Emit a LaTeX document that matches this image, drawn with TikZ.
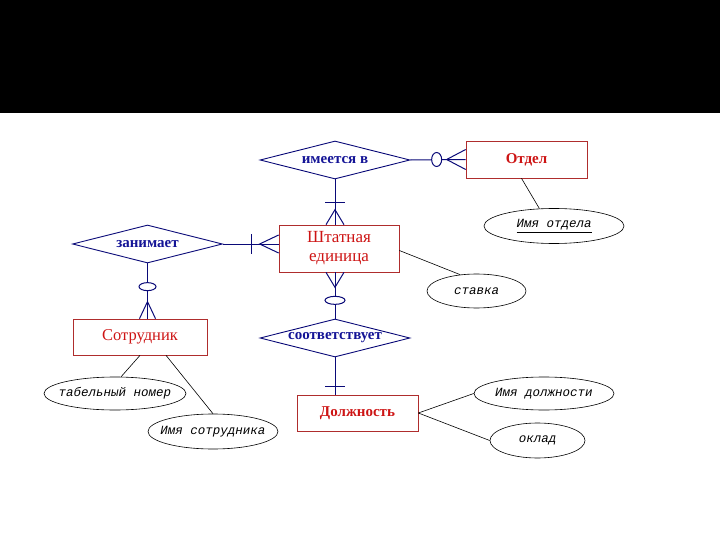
\documentclass[tikz,border=0pt]{standalone}
\usepackage{fontspec}
\setmainfont{Liberation Serif}
\newfontfamily\attrfont{Liberation Mono}
\usetikzlibrary{shapes.geometric,calc}
\definecolor{relblue}{RGB}{20,20,150}
\definecolor{linknavy}{RGB}{10,10,120}
\definecolor{entred}{RGB}{205,20,20}
\definecolor{boxred}{RGB}{175,45,45}
\tikzset{
    rel/.style={diamond,draw=linknavy,line width=0.9pt,aspect=3.95,minimum width=150pt,minimum height=38pt,inner sep=0pt,text=relblue,font=\fontsize{15}{17}\selectfont\bfseries},
    ent/.style={rectangle,draw=boxred,line width=0.7pt,text=entred,align=center,inner sep=2pt,font=\fontsize{17}{19}\selectfont},
    attr/.style={ellipse,draw=black,line width=0.6pt,inner ysep=0pt,inner xsep=-7pt,font=\attrfont\itshape\fontsize{12.5}{14}\selectfont},
    link/.style={draw=linknavy,line width=1pt},
    alink/.style={draw=black,line width=0.6pt},
}

\begin{document}
\begin{tikzpicture}[x=1pt,y=-1pt]
\useasboundingbox (0,0) rectangle (720,540);
\fill[black] (0,0) rectangle (720,113);
% entities
\node[ent,minimum width=121pt,minimum height=37pt,font=\fontsize{15}{17}\selectfont\bfseries] (otdel) at (526.5,159.5) {Отдел};
\node[ent,minimum width=120pt,minimum height=47pt] (shtat) at (339,248.5) {Штатная\\единица};
\node[ent,minimum width=134pt,minimum height=36pt,font=\fontsize{16.5}{18}\selectfont] (sotr) at (140,337) {Сотрудник};
\node[ent,minimum width=121pt,minimum height=36pt,font=\fontsize{15}{17}\selectfont\bfseries] (dolzh) at (357.5,413) {Должность};
% relationships
\node[rel] (imeet) at (335,160) {имеется в};
\node[rel] (zanim) at (147.5,244) {занимает};
\node[rel] (sootv) at (335,338) {соответствует};
% attributes
\node[attr,minimum width=140pt,minimum height=35pt] (imyaotd) at (554,226) {\underline{Имя отдела}};
\node[attr,minimum width=99pt,minimum height=34pt] (stavka) at (476.5,291) {ставка};
\node[attr,minimum width=142pt,minimum height=33pt] (tabnom) at (115,393.5) {табельный номер};
\node[attr,minimum width=130pt,minimum height=35pt] (imyasotr) at (213,431.5) {Имя сотрудника};
\node[attr,minimum width=140pt,minimum height=33pt] (imyadolzh) at (544,393.5) {Имя должности};
\node[attr,minimum width=95pt,minimum height=35pt] (oklad) at (537.5,440.5) {оклад};

% relationship links
\draw[link] (imeet.east) -- (otdel.west);
\draw[link] (imeet.south) -- (imeet.south |- shtat.north);
\draw[link] (zanim.east) -- (zanim.east -| shtat.west);
\draw[link] (zanim.south) -- (zanim.south |- sotr.north);
\draw[link] (sootv.north) -- (sootv.north |- shtat.south);
\draw[link] (sootv.south) -- (sootv.south |- dolzh.north);

% cardinality marks
\coordinate (p1) at (otdel.west);
\draw[link,fill=white] ($(p1)+(-29,0)$) ellipse (5pt and 7pt);
\draw[link] ($(p1)+(0,-10)$) -- ($(p1)+(-19,0)$) -- ($(p1)+(0,10)$);
\coordinate (p2) at (imeet.south |- shtat.north);
\draw[link] ($(p2)+(-10,-22)$) -- ($(p2)+(10,-22)$);
\draw[link] ($(p2)+(-9,0)$) -- ($(p2)+(0,-15)$) -- ($(p2)+(9,0)$);
\coordinate (p3) at (zanim.east -| shtat.west);
\draw[link] ($(p3)+(-27,-10)$) -- ($(p3)+(-27,10)$);
\draw[link] ($(p3)+(0,-9)$) -- ($(p3)+(-19,0)$) -- ($(p3)+(0,9)$);
\coordinate (p4) at (zanim.south |- sotr.north);
\draw[link,fill=white] ($(p4)+(0,-32)$) ellipse (8.5pt and 4pt);
\draw[link] ($(p4)+(-8,0)$) -- ($(p4)+(0,-17)$) -- ($(p4)+(8,0)$);
\coordinate (p5) at (sootv.north |- shtat.south);
\draw[link] ($(p5)+(-9,0)$) -- ($(p5)+(0,15)$) -- ($(p5)+(9,0)$);
\draw[link,fill=white] ($(p5)+(0,28)$) ellipse (10pt and 4pt);
\coordinate (p6) at (sootv.south |- dolzh.north);
\draw[link] ($(p6)+(-10,-8)$) -- ($(p6)+(10,-8)$);

% attribute links
\draw[alink] ($(otdel.south)+(-5,0)$) -- (imyaotd.130);
\draw[alink] ($(shtat.east)+(0,2)$) -- (stavka.135);
\draw[alink] (sotr.south) -- (tabnom.70);
\draw[alink] ($(sotr.south)+(26,0)$) -- (imyasotr.north);
\draw[alink] (dolzh.east) -- (imyadolzh.west);
\draw[alink] (dolzh.east) -- (oklad.west);
\end{tikzpicture}
\end{document}
